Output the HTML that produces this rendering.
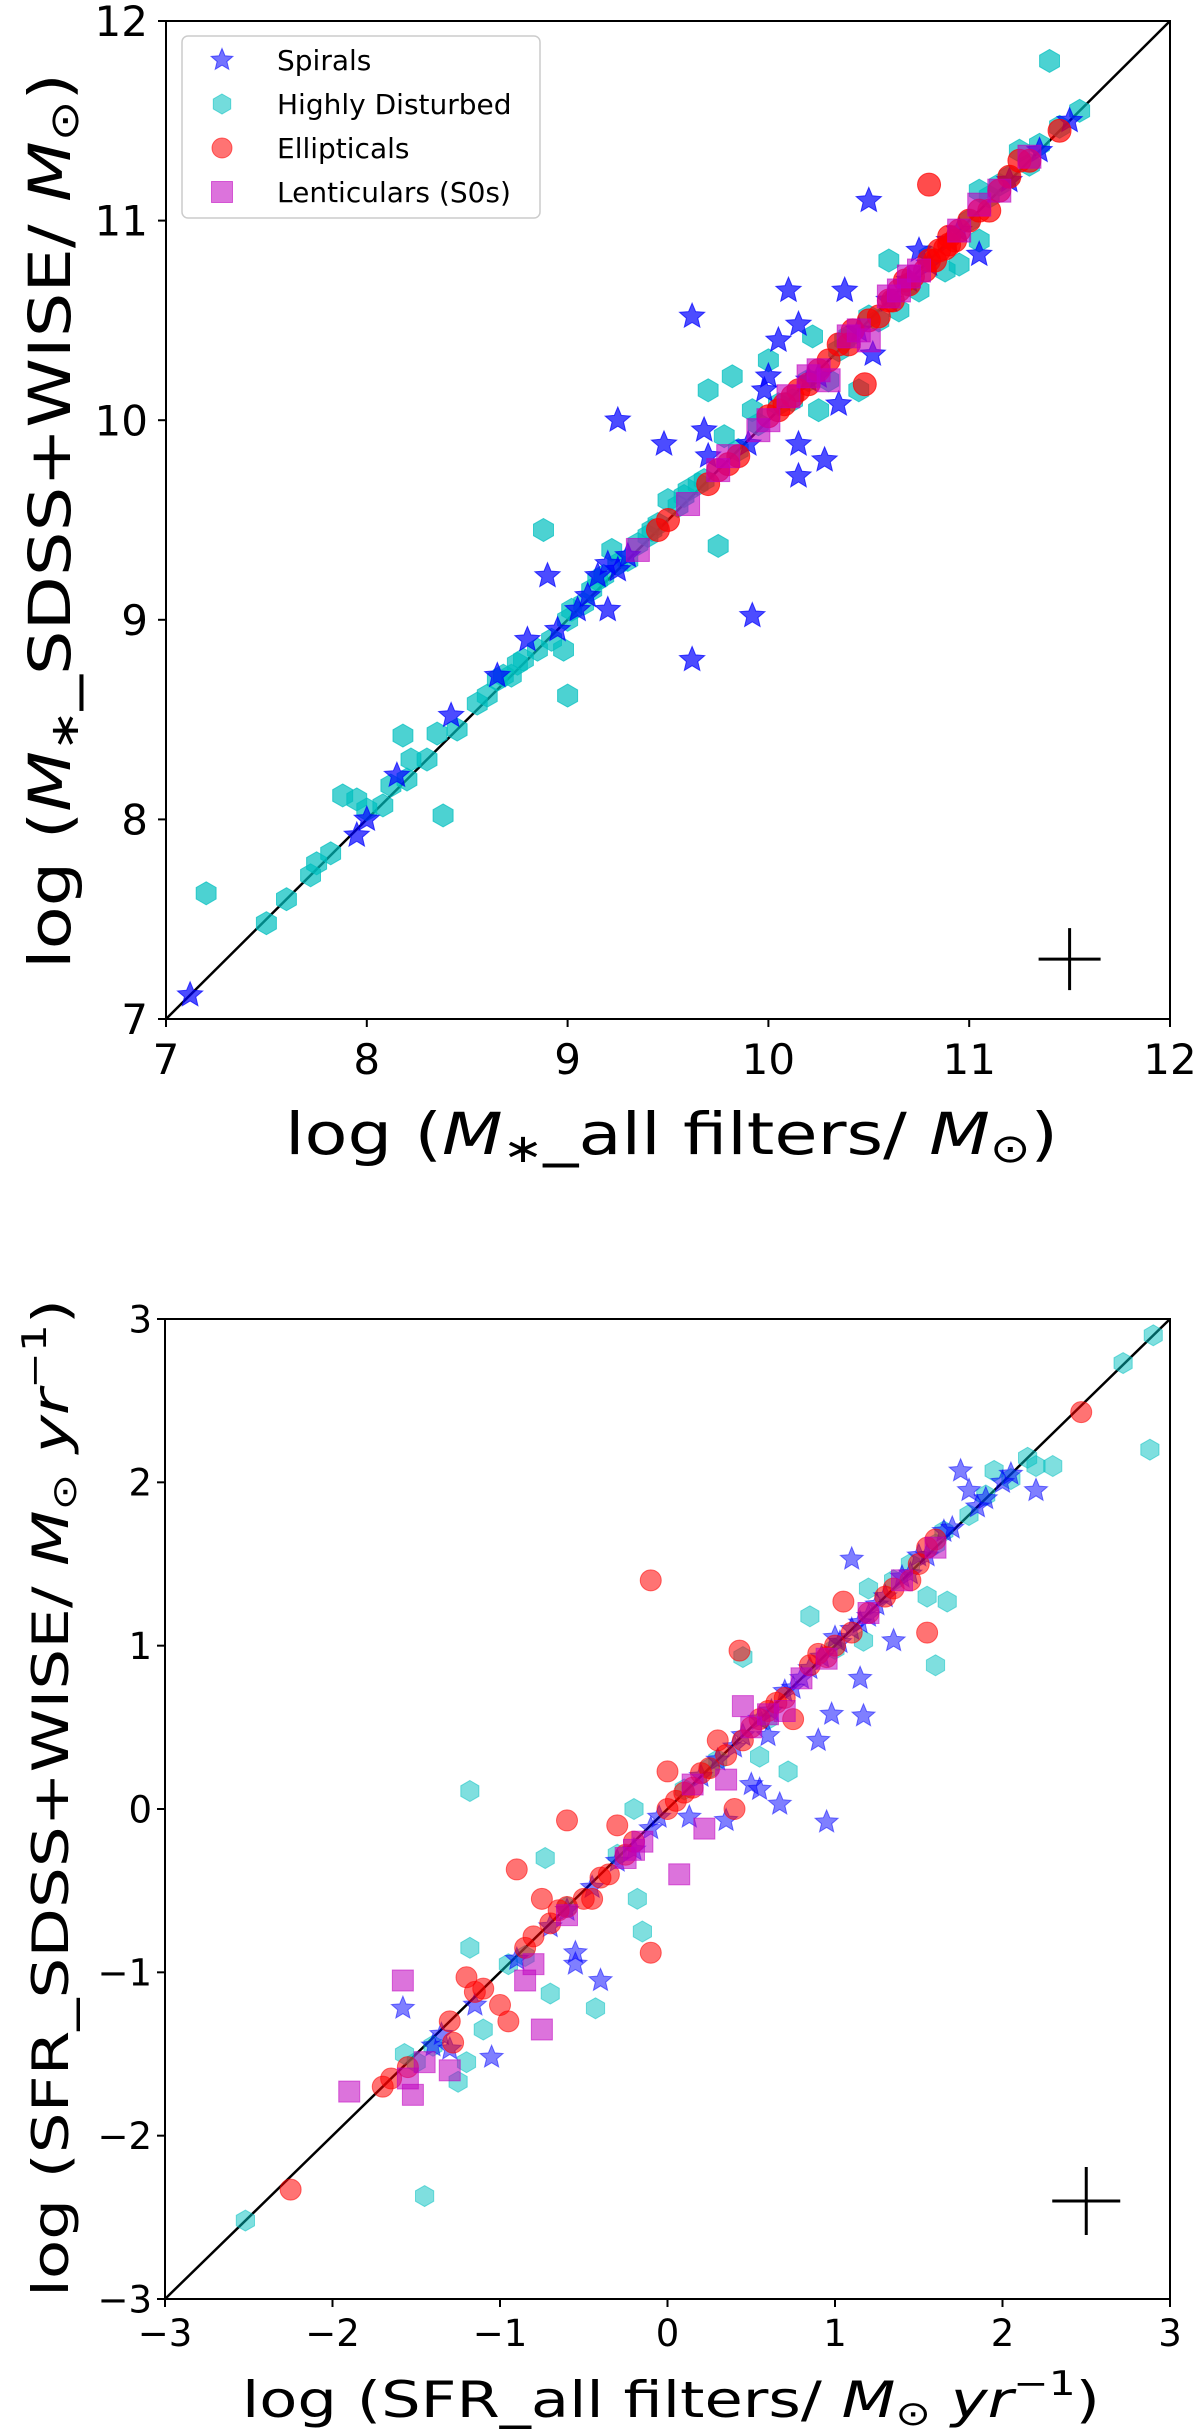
<!DOCTYPE html>
<html><head><meta charset="utf-8">
<style>
html,body{margin:0;padding:0;background:#fff;}
svg{display:block;font-family:"DejaVu Sans","Liberation Sans",sans-serif;}
</style></head>
<body>
<svg id="fig" width="1200" height="2436" viewBox="0 0 1200 2436" xmlns="http://www.w3.org/2000/svg">
<g id="topPanel"></g>
<g id="botPanel"></g>
</svg>
<script>
// ---------- Top panel data (log M*) ----------
const mSpiralX=[10.5,9.62,10.1,10.38,10.15,10.05,9.25,9.48,9.68,9.7,10.15,10.28,10.15,10.35,10.52,9.98,10.0,8.9,9.2,9.92,9.62,8.42,8.15,7.95,8.0,7.12,10.75,11.05,11.5,9.2,8.8,8.95,9.05,10.7,10.9,9.15,8.65,10.6,9.1,9.25,9.3,10.2,10.45,10.8,10.95,11.2,11.35,9.9,10.25];
const mSpiralY=[11.1,10.52,10.65,10.65,10.48,10.4,10.0,9.88,9.95,9.82,9.88,9.8,9.72,10.08,10.33,10.15,10.22,9.22,9.05,9.02,8.8,8.52,8.22,7.92,8.0,7.12,10.85,10.83,11.5,9.28,8.9,8.95,9.05,10.7,10.9,9.22,8.72,10.6,9.12,9.25,9.32,10.2,10.45,10.78,10.95,11.2,11.35,9.88,10.22];
const mHexX=[11.4,11.55,7.2,7.5,7.6,7.72,7.75,7.82,7.88,7.95,8.0,8.08,8.12,8.2,8.18,8.22,8.3,8.35,8.38,8.45,8.55,8.6,8.65,8.72,8.75,8.85,8.88,8.98,9.0,9.0,9.08,9.12,9.15,9.22,9.3,9.45,9.5,9.58,9.65,9.75,9.7,9.82,9.78,9.92,10.0,10.25,10.22,10.3,10.4,10.45,10.5,10.6,10.65,10.75,10.88,10.95,11.05,11.05,11.25,11.3,10.2,10.35,11.15,11.0,10.8,9.85,9.4,9.55,8.68,8.78,8.92,9.02,9.18,9.25,9.35,9.42,9.6,9.68,9.95,10.05,10.12,10.38,10.55,10.7,11.1,11.2,11.35,11.45];
const mHexY=[11.8,11.55,7.63,7.48,7.6,7.72,7.78,7.83,8.12,8.1,8.05,8.07,8.17,8.2,8.42,8.3,8.3,8.43,8.02,8.45,8.58,8.62,8.7,8.72,8.78,8.85,9.45,8.85,8.62,9.0,9.08,9.15,9.2,9.35,9.3,9.48,9.6,9.62,9.68,9.37,10.15,10.22,9.92,10.05,10.3,10.05,10.42,10.2,10.42,10.15,10.52,10.8,10.55,10.65,10.75,10.78,10.9,11.15,11.35,11.28,10.2,10.35,11.18,11.0,10.82,9.85,9.42,9.57,8.72,8.8,8.9,9.05,9.22,9.28,9.38,9.45,9.65,9.7,9.98,10.08,10.1,10.4,10.5,10.68,11.12,11.22,11.38,11.47];
const mEllX=[10.8,10.48,11.45,11.25,11.1,10.95,10.9,10.85,10.8,10.72,10.65,10.6,10.55,10.42,10.35,10.3,10.25,10.2,10.12,10.05,9.85,9.7,9.5,9.45,11.0,11.15,10.7,10.0,10.9,10.78,10.83,10.88,10.93,11.05,11.2,11.3,10.68,10.62,10.5,10.4,10.15,10.08,9.8,9.75];
const mEllY=[11.18,10.18,11.45,11.3,11.05,10.95,10.92,10.85,10.8,10.72,10.65,10.6,10.52,10.45,10.38,10.3,10.25,10.18,10.12,10.05,9.82,9.68,9.5,9.45,11.0,11.15,10.68,10.02,10.88,10.75,10.8,10.86,10.9,11.05,11.22,11.3,10.7,10.6,10.5,10.38,10.15,10.08,9.78,9.75];
const mLenX=[9.35,9.6,9.8,9.95,10.0,10.25,10.4,10.3,10.5,10.65,10.7,10.95,11.15,11.3,10.2,9.75,11.05,10.1,10.45,10.6,10.75];
const mLenY=[9.35,9.58,9.82,9.95,10.0,10.25,10.42,10.2,10.4,10.65,10.72,10.95,11.15,11.32,10.22,9.75,11.08,10.12,10.45,10.62,10.75];
const mTicks=[7,8,9,10,11,12];
const mTickLabels=["7","8","9","10","11","12"];

// ---------- Bottom panel data (log SFR) ----------
const sSpiralX=[1.75,1.8,2.2,1.1,1.35,1.15,1.17,0.98,0.9,0.67,0.95,0.6,0.5,0.55,0.35,0.13,-0.55,-0.4,-0.55,-1.58,-1.35,-1.05,-1.15,-1.4,-1.3,1.5,1.65,2.05,1.0,1.1,0.8,-0.2,-0.05,0.2,1.4,0.3,0.45,0.7,1.25,1.85,-0.9,-0.7,-0.3,0.85,0.92,1.03,1.15,1.2,1.3,1.45,1.55,1.7,1.9,2.0,0.55,0.62,0.75,0.4,-0.1,-0.45,-0.6];
const sSpiralY=[2.07,1.95,1.95,1.53,1.03,0.8,0.57,0.58,0.42,0.03,-0.08,0.45,0.15,0.12,-0.07,-0.05,-0.95,-1.05,-0.88,-1.22,-1.38,-1.52,-1.2,-1.45,-1.47,1.55,1.7,2.05,1.05,1.1,0.8,-0.25,-0.05,0.2,1.42,0.3,0.45,0.72,1.25,1.85,-0.92,-0.72,-0.32,0.86,0.93,1.02,1.14,1.18,1.3,1.44,1.55,1.72,1.9,2.0,0.55,0.6,0.74,0.38,-0.12,-0.48,-0.62];
const sHexX=[2.9,2.72,2.88,-2.52,-1.45,-1.18,-0.73,-1.18,-0.18,-0.15,-0.43,-0.7,-1.25,1.6,1.67,0.85,1.17,0.72,0.45,0.55,1.2,1.95,2.15,2.2,-1.57,-1.5,-0.2,0.1,0.3,1.6,1.8,1.9,-0.95,-0.6,-1.1,-1.2,2.3,1.55,0.6,1.35,1.45,1.65,2.05,1.0,0.25,-0.3,-0.85,-1.4];
const sHexY=[2.9,2.73,2.2,-2.52,-2.37,0.11,-0.3,-0.85,-0.55,-0.75,-1.22,-1.13,-1.67,0.88,1.27,1.18,1.03,0.23,0.93,0.32,1.35,2.07,2.15,2.1,-1.5,-1.55,0.0,0.12,0.3,1.62,1.8,1.92,-0.95,-0.6,-1.35,-1.55,2.1,1.3,0.55,1.4,1.5,1.7,2.02,0.98,0.25,-0.28,-0.9,-1.45];
const sEllX=[-0.1,0.43,1.55,-0.6,-0.9,-0.1,-2.25,2.47,-1.2,-1.7,-1.55,-1.28,-0.45,-0.75,0.4,0.0,0.3,1.05,1.45,0.75,-0.3,-0.85,-1.0,-0.95,-1.1,-0.7,-0.5,-0.35,-0.2,0.0,0.1,0.2,0.25,0.5,0.6,0.65,0.9,1.0,1.2,1.3,1.55,1.6,0.85,-0.6,-1.65,-1.3,-0.65,-0.4,-0.25,0.05,0.15,0.35,0.45,0.55,0.7,0.95,1.1,1.35,1.5,-1.15,-0.8];
const sEllY=[1.4,0.97,1.08,-0.07,-0.37,-0.88,-2.33,2.43,-1.03,-1.7,-1.58,-1.43,-0.55,-0.55,0.0,0.23,0.42,1.27,1.4,0.55,-0.1,-0.85,-1.2,-1.3,-1.1,-0.7,-0.55,-0.4,-0.2,0.0,0.1,0.22,0.25,0.5,0.6,0.65,0.95,1.0,1.2,1.3,1.6,1.65,0.88,-0.6,-1.65,-1.3,-0.62,-0.42,-0.28,0.05,0.13,0.33,0.42,0.55,0.68,0.93,1.08,1.35,1.5,-1.12,-0.78];
const sLenX=[-1.58,-1.9,-1.52,-1.45,-1.3,-0.75,0.07,0.22,0.35,0.45,-0.85,-0.8,-0.2,-0.25,0.15,0.5,0.7,0.8,1.2,1.6,-0.6,-1.55,-0.15,0.6,0.95,1.4];
const sLenY=[-1.05,-1.73,-1.75,-1.55,-1.6,-1.35,-0.4,-0.12,0.18,0.63,-1.05,-0.95,-0.25,-0.3,0.15,0.5,0.6,0.8,1.2,1.6,-0.65,-1.65,-0.2,0.58,0.92,1.4];
const sTicks=[-3,-2,-1,0,1,2,3];
const sTickLabels=["\u22123","\u22122","\u22121","0","1","2","3"];

const NS="http://www.w3.org/2000/svg";
function mk(tag,attrs,parent){const e=document.createElementNS(NS,tag);for(const k in attrs)e.setAttribute(k,attrs[k]);parent.appendChild(e);return e;}
function scale(d0,d1,p0,p1){return v=>p0+(v-d0)/(d1-d0)*(p1-p0);}

function starPts(cx,cy,r){let s=[];for(let i=0;i<10;i++){const rr=i%2?r*0.45:r;const a=-Math.PI/2+i*Math.PI/5;s.push((cx+rr*Math.cos(a)).toFixed(1)+","+(cy+rr*Math.sin(a)).toFixed(1));}return s.join(" ");}
function hexPts(cx,cy,r){let s=[];for(let i=0;i<6;i++){const a=-Math.PI/2+i*Math.PI/3;s.push((cx+r*Math.cos(a)).toFixed(1)+","+(cy+r*Math.sin(a)).toFixed(1));}return s.join(" ");}

function drawMarker(g,type,cx,cy,r,fill,op){
  let el;
  if(type==="star") el=mk("polygon",{points:starPts(cx,cy,r*1.15),fill:fill,"fill-opacity":op,stroke:fill,"stroke-opacity":op,"stroke-width":1},g);
  else if(type==="hex") el=mk("polygon",{points:hexPts(cx,cy,r),fill:fill,"fill-opacity":op,stroke:fill,"stroke-opacity":op,"stroke-width":1},g);
  else if(type==="circ") el=mk("circle",{cx:cx,cy:cy,r:r,fill:fill,"fill-opacity":op,stroke:fill,"stroke-opacity":op,"stroke-width":1},g);
  else el=mk("rect",{x:cx-r,y:cy-r,width:2*r,height:2*r,fill:fill,"fill-opacity":op,stroke:fill,"stroke-opacity":op,"stroke-width":1},g);
  return el;
}

function panel(g,cfg){
  const sx=scale(cfg.d0,cfg.d1,cfg.L,cfg.R), sy=scale(cfg.d0,cfg.d1,cfg.B,cfg.T);
  const diag=mk("line",{x1:sx(cfg.d0),y1:sy(cfg.d0),x2:sx(cfg.d1),y2:sy(cfg.d1),stroke:"#000","stroke-width":2.5},g);
  
  
  cfg.series.forEach(s=>{
    const sg=mk("g",{},g);
    
    
    for(let i=0;i<s.x.length;i++){
      const m=drawMarker(sg,s.type,sx(s.x[i]),sy(s.y[i]),cfg.r,s.color,s.op);
      
      
    }
  });
  const cx=sx(cfg.cross[0]), cy=sy(cfg.cross[1]);
  const cg=mk("g",{},g);
  
  
  mk("line",{x1:cx-cfg.ch,y1:cy,x2:cx+cfg.ch,y2:cy,stroke:"#000","stroke-width":3},cg);
  mk("line",{x1:cx,y1:cy-cfg.ch,x2:cx,y2:cy+cfg.ch,stroke:"#000","stroke-width":3},cg);
  const fr=mk("rect",{x:cfg.L,y:cfg.T,width:cfg.R-cfg.L,height:cfg.B-cfg.T,fill:"none",stroke:"#000","stroke-width":2},g);
  
  
  cfg.ticks.forEach((t,i)=>{
    const xt=mk("line",{x1:sx(t),y1:cfg.B,x2:sx(t),y2:cfg.B+8,stroke:"#000","stroke-width":2},g);
    
    
    const yt=mk("line",{x1:cfg.L-8,y1:sy(t),x2:cfg.L,y2:sy(t),stroke:"#000","stroke-width":2},g);
    
    
    const xl=mk("text",{x:sx(t),y:cfg.xTickY,"font-size":cfg.tf,"text-anchor":"middle"},g);
    xl.textContent=cfg.labels[i];
    
    
    const yl=mk("text",{x:cfg.yTickX,y:sy(t)+cfg.tf*0.36,"font-size":cfg.tf,"text-anchor":"end"},g);
    yl.textContent=cfg.labels[i];
    
    
  });
}

const topG=document.getElementById("topPanel"), botG=document.getElementById("botPanel");
panel(topG,{d0:7,d1:12,L:166,R:1170,T:21,B:1019,r:11.5,cross:[11.5,7.3],ch:31,
  ticks:mTicks,labels:mTickLabels,tf:42,xTickY:1074,yTickX:148,
  series:[
   {name:'highly-disturbed-series',pt:'highly-disturbed-point',type:'hex',color:'#00bfbf',op:0.7,x:mHexX,y:mHexY},
   {name:'spirals-series',pt:'spiral-point',type:'star',color:'#0000ff',op:0.7,x:mSpiralX,y:mSpiralY},
   {name:'ellipticals-series',pt:'elliptical-point',type:'circ',color:'#ff0000',op:0.7,x:mEllX,y:mEllY},
   {name:'lenticulars-series',pt:'lenticular-point',type:'sq',color:'#bf00bf',op:0.6,x:mLenX,y:mLenY}]});
panel(botG,{d0:-3,d1:3,L:165,R:1170,T:1319,B:2299,r:10.5,cross:[2.5,-2.4],ch:34,
  ticks:sTicks,labels:sTickLabels,tf:37,xTickY:2346,yTickX:152,
  series:[
   {name:'highly-disturbed-series',pt:'highly-disturbed-point',type:'hex',color:'#00bfbf',op:0.5,x:sHexX,y:sHexY},
   {name:'spirals-series',pt:'spiral-point',type:'star',color:'#0000ff',op:0.5,x:sSpiralX,y:sSpiralY},
   {name:'ellipticals-series',pt:'elliptical-point',type:'circ',color:'#ff0000',op:0.55,x:sEllX,y:sEllY},
   {name:'lenticulars-series',pt:'lenticular-point',type:'sq',color:'#bf00bf',op:0.55,x:sLenX,y:sLenY}]});

const lg=mk("g",{},topG);


mk("rect",{x:182,y:36,width:358,height:182,rx:6,fill:"#fff","fill-opacity":0.85,stroke:"#ccc","stroke-width":1.5},lg);
const entries=[["star","#0000ff","Spirals",60],["hex","#00bfbf","Highly Disturbed",104],["circ","#ff0000","Ellipticals",148],["sq","#bf00bf","Lenticulars (S0s)",192]];
entries.forEach(e=>{
  const eg=mk("g",{},lg);
  
  
  drawMarker(eg,e[0],222,e[3],e[0]==="sq"?10.5:10,e[1],0.55);
  const t=mk("text",{x:277,y:e[3]+10,"font-size":28},eg);
  t.textContent=e[2];
});
</script>
<svg style="position:absolute;left:0;top:0" width="1200" height="2436" xmlns="http://www.w3.org/2000/svg" font-family="DejaVu Sans, Liberation Sans, sans-serif">
 <text x="285" y="1154" font-size="58" textLength="773" lengthAdjust="spacingAndGlyphs">log (<tspan font-style="italic">M</tspan><tspan font-size="40" dy="8">∗</tspan><tspan dy="-8">_all filters/ </tspan><tspan font-style="italic">M</tspan><tspan font-size="40" dy="8">⊙</tspan><tspan dy="-8">)</tspan></text>
 <text transform="translate(70,969) rotate(-90)" x="0" y="0" font-size="58" textLength="896" lengthAdjust="spacingAndGlyphs">log (<tspan font-style="italic">M</tspan><tspan font-size="40" dy="8">∗</tspan><tspan dy="-8">_SDSS+WISE/ </tspan><tspan font-style="italic">M</tspan><tspan font-size="40" dy="8">⊙</tspan><tspan dy="-8">)</tspan></text>
 <text x="242" y="2417" font-size="50" textLength="858" lengthAdjust="spacingAndGlyphs">log (SFR_all filters/ <tspan font-style="italic">M</tspan><tspan font-size="34" dy="8">⊙</tspan><tspan dy="-8" font-style="italic"> yr</tspan><tspan font-size="34" dy="-22">−1</tspan><tspan dy="22">)</tspan></text>
 <text transform="translate(68,2297) rotate(-90)" x="0" y="0" font-size="50" textLength="998" lengthAdjust="spacingAndGlyphs">log (SFR_SDSS+WISE/ <tspan font-style="italic">M</tspan><tspan font-size="34" dy="8">⊙</tspan><tspan dy="-8" font-style="italic"> yr</tspan><tspan font-size="34" dy="-22">−1</tspan><tspan dy="22">)</tspan></text>
</svg>
</body></html>
